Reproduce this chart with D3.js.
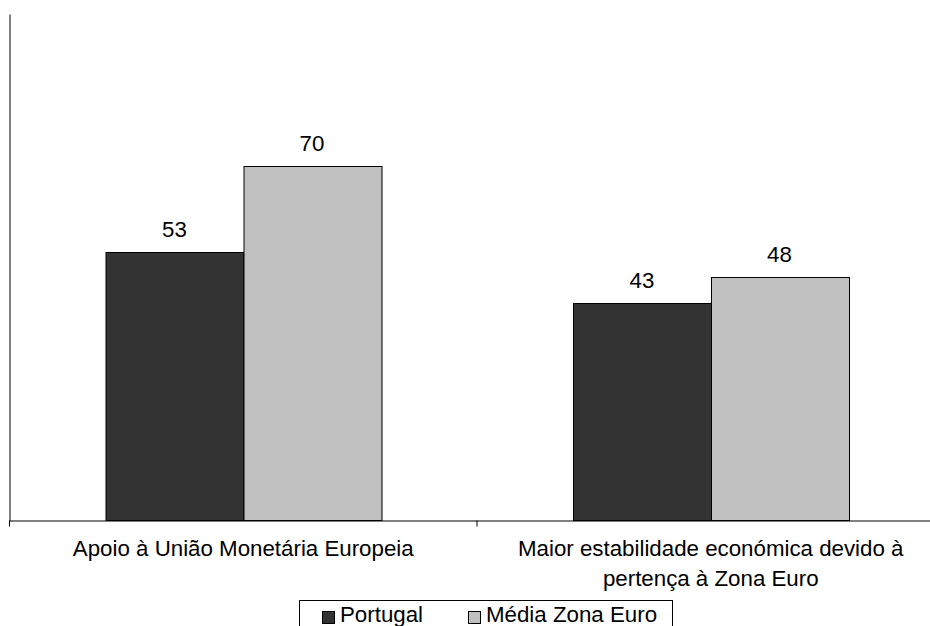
<!DOCTYPE html>
<html><head><meta charset="utf-8">
<script src="https://cdn.jsdelivr.net/npm/d3@7"></script>
<style>body{margin:0;background:#fff}svg{display:block}text{font-family:"Liberation Sans",Arial,sans-serif;fill:#000}</style>
</head><body><svg id="c" width="930" height="626"></svg>
<script>
const categories = [["Apoio à União Monetária Europeia"], ["Maior estabilidade económica devido à", "pertença à Zona Euro"]];
const seriesNames = ["Portugal", "Média Zona Euro"];
const portugal = [53, 43];
const mediaZonaEuro = [70, 48];
const colors = ["#333333", "#c0c0c0"];
const yMax = 100;

const svg = d3.select("#c");
const fs = 22.3;
const catKeys = categories.map((c, i) => "c" + i);
const x0 = d3.scaleBand().domain(catKeys).range([9.5, 944.5]).padding(0);
const x1 = d3.scaleBand().domain(seriesNames).range([0, x0.bandwidth()]).paddingInner(0).paddingOuter(0.7);
const y = d3.scaleLinear().domain([0, yMax]).range([520.5, 14]);
const values = [portugal, mediaZonaEuro];

// bars
catKeys.forEach((k, ci) => {
  const g = svg.append("g").attr("transform", `translate(${x0(k)},0)`);
  seriesNames.forEach((s, si) => {
    const v = values[si][ci];
    g.append("rect").attr("x", Math.round(x1(s)) + 0.5).attr("y", Math.round(y(v)) + 0.5)
      .attr("width", Math.round(x1.bandwidth())).attr("height", y(0) - Math.round(y(v)) - 0.5)
      .attr("fill", colors[si]).attr("stroke", "#000").attr("stroke-width", 1);
    g.append("text").attr("x", x1(s) + x1.bandwidth() / 2).attr("y", y(v) - 15)
      .attr("text-anchor", "middle").attr("font-size", fs).text(v);
  });
});

// y axis
const yAxis = d3.axisLeft(y).tickValues([]).tickSizeOuter(0);
svg.append("g").attr("transform", "translate(9.5,0)").call(yAxis)
  .call(g => g.select(".domain").attr("stroke", "#000"));

// x axis
const xAxis = d3.axisBottom(x0).tickSize(0).tickSizeOuter(0).tickFormat("");
const xg = svg.append("g").attr("transform", `translate(0,${y(0)})`).call(xAxis);
xg.select(".domain").attr("stroke", "#000");
const bounds = [x0.range()[0], ...catKeys.map(k => x0(k) + x0.bandwidth())];
bounds.forEach(b => xg.append("line").attr("x1", b).attr("x2", b).attr("y1", 0).attr("y2", 6).attr("stroke", "#000"));
catKeys.forEach((k, ci) => {
  const t = xg.append("text").attr("text-anchor", "middle").attr("font-size", fs)
    .attr("x", x0(k) + x0.bandwidth() / 2);
  categories[ci].forEach((line, li) => {
    t.append("tspan").attr("x", x0(k) + x0.bandwidth() / 2).attr("y", 35 + li * 30).text(line);
  });
});

// legend
const lg = svg.append("g");
lg.append("rect").attr("x", 299.5).attr("y", 600.5).attr("width", 373).attr("height", 32)
  .attr("fill", "#fff").attr("stroke", "#000");
const legX = [322, 468];
seriesNames.forEach((s, i) => {
  lg.append("rect").attr("x", legX[i] + 0.5).attr("y", 611.5).attr("width", 12).attr("height", 12)
    .attr("fill", colors[i]).attr("stroke", "#000");
  lg.append("text").attr("x", legX[i] + 18).attr("y", 622).attr("font-size", fs).text(s);
});
</script></body></html>
